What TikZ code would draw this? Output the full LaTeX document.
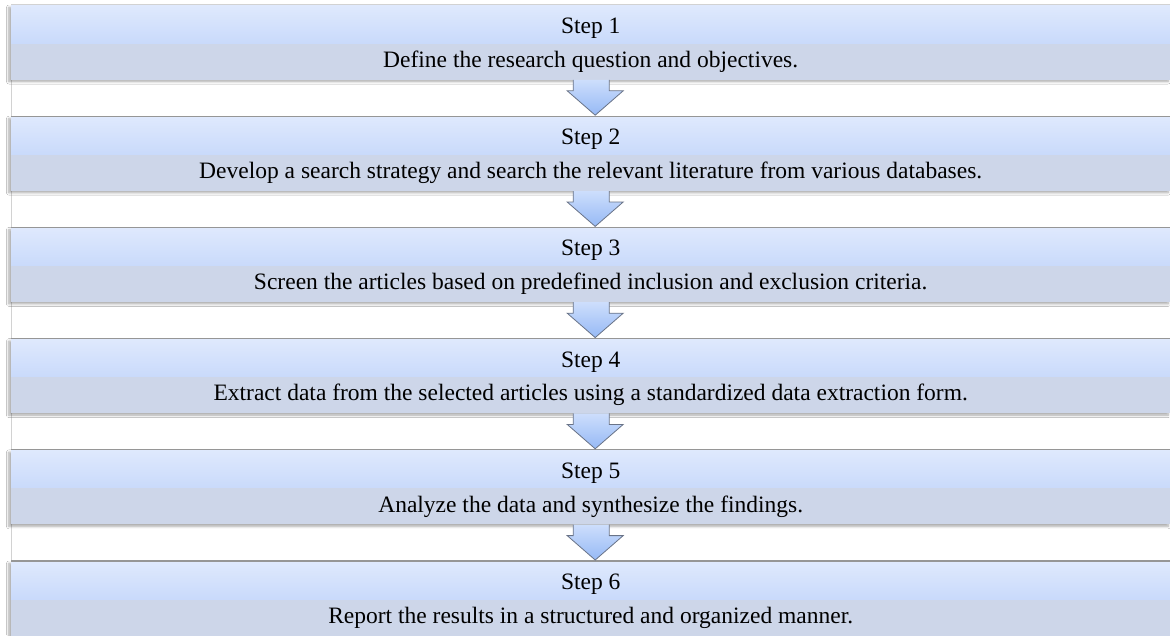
\documentclass[tikz,border=0pt]{standalone}
\usepackage{fontspec}
\setmainfont{Liberation Serif}
\usetikzlibrary{calc,shadows.blur}
\definecolor{titletop}{RGB}{223,233,253}
\definecolor{titlebot}{RGB}{201,218,251}
\definecolor{descfill}{RGB}{205,214,233}
\definecolor{arrtop}{RGB}{205,222,252}
\definecolor{arrbot}{RGB}{150,185,245}
\definecolor{arrline}{RGB}{105,115,135}
\definecolor{edgegray}{RGB}{150,150,150}
\tikzset{
  titlebar/.style={rectangle, anchor=north west, minimum width=1159pt, minimum height=38pt,
    inner sep=0pt, top color=titletop, bottom color=titlebot, draw=none,
    font=\fontsize{23.5}{28}\selectfont},
  descbar/.style={rectangle, anchor=north, minimum width=1159pt, minimum height=36pt,
    inner sep=0pt, fill=descfill, draw=none, font=\fontsize{23.5}{28}\selectfont},
  boxshadow/.style={blur shadow={shadow xshift=-2pt, shadow yshift=-2.5pt, shadow opacity=35, shadow blur steps=6, shadow blur radius=2.5pt}},
  arrfill/.style={top color=arrtop, bottom color=arrbot, draw=none},
  arrdraw/.style={draw=arrline, line width=0.8pt, line join=miter},
}
\begin{document}
\begin{tikzpicture}[x=1pt,y=-1pt]
\useasboundingbox (0,0) rectangle (1170,635);
\fill[white] (0,0) rectangle (1170,635);
\draw[gray!35, line width=1pt] (11.5,4) -- (11.5,635);
\draw[gray!35, line width=1pt] (11,4.5) -- (1170,4.5);
\foreach \i/\top/\txt in {
  1/5/{Define the research question and objectives.},
  2/116.2/{Develop a search strategy and search the relevant literature from various databases.},
  3/227.4/{Screen the articles based on predefined inclusion and exclusion criteria.},
  4/338.6/{Extract data from the selected articles using a standardized data extraction form.},
  5/449.8/{Analyze the data and synthesize the findings.},
  6/561/{Report the results in a structured and organized manner.}}{
  \path[boxshadow, fill=white] (11,\top) rectangle (1170,\top+74);
  \node[titlebar, text depth=0pt] (t\i) at (11,\top) {\raisebox{-3pt}{Step \i}};
  \node[descbar] (d\i) at (t\i.south) {\raisebox{-1pt}{\txt}};
}
\foreach \i in {2,...,6}{
  \draw[edgegray, line width=1.3pt] (t\i.north west) -- (t\i.north east);
}
\foreach \i [evaluate=\i as \j using int(\i+1)] in {1,...,5}{
  \path[arrfill] ($(d\i.south)+(-17.5,0)$) -- ($(d\i.south)+(-17.5,11)$) -- ($(d\i.south)+(-23.5,11)$)
    -- ($(t\j.north)+(4.5,-1)$) -- ($(d\i.south)+(32.5,11)$) -- ($(d\i.south)+(18.5,11)$)
    -- ($(d\i.south)+(18.5,0)$) -- cycle;
  \draw[arrdraw] ($(d\i.south)+(-17.5,0)$) -- ($(d\i.south)+(-17.5,11)$) -- ($(d\i.south)+(-23.5,11)$)
    -- ($(t\j.north)+(4.5,-1)$) -- ($(d\i.south)+(32.5,11)$) -- ($(d\i.south)+(18.5,11)$)
    -- ($(d\i.south)+(18.5,0)$);
}
\end{tikzpicture}
\end{document}
